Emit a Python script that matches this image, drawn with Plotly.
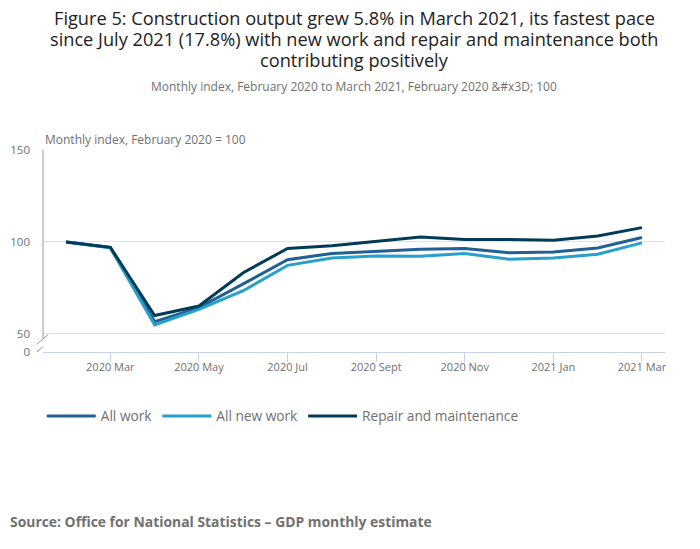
import plotly.graph_objects as go

months = ["2020 Feb", "2020 Mar", "2020 Apr", "2020 May", "2020 Jun", "2020 Jul", "2020 Aug",
          "2020 Sept", "2020 Oct", "2020 Nov", "2020 Dec", "2021 Jan", "2021 Feb", "2021 Mar"]
all_work = [100, 97.0, 56.7, 64.3, 77.2, 90.4, 93.8, 95.1, 96.0, 96.5, 94.2, 94.6, 96.7, 102.4]
all_new_work = [100, 96.8, 54.9, 63.4, 73.5, 87.3, 91.3, 92.4, 92.2, 93.8, 90.6, 91.3, 93.3, 99.5]
repair_maint = [100, 97.1, 60.0, 65.2, 83.3, 96.5, 98.0, 100.5, 102.7, 101.4, 101.4, 100.9, 103.3, 107.8]
tick_months = ["2020 Mar", "2020 May", "2020 Jul", "2020 Sept", "2020 Nov", "2021 Jan", "2021 Mar"]
title_lines = ["Figure 5: Construction output grew 5.8% in March 2021, its fastest pace",
               "since July 2021 (17.8%) with new work and repair and maintenance both",
               "contributing positively"]

FONT = "Open Sans"
GREY = "#707071"

fig = go.Figure()
for name, vals, col in [("All work", all_work, "#206095"),
                        ("All new work", all_new_work, "#27a0cc"),
                        ("Repair and maintenance", repair_maint, "#003c57")]:
    fig.add_trace(go.Scatter(x=months, y=vals, name=name, mode="lines",
                             line=dict(color=col, width=3)))

# broken y axis: line plus the two slashes
fig.add_shape(type="line", xref="paper", yref="y", x0=0, x1=0, y0=47.5, y1=150,
              line=dict(color="#9a9a9a", width=1))
fig.add_shape(type="line", xref="paper", yref="y", x0=-0.010, x1=0.0085, y0=44.4, y1=49.8,
              line=dict(color="#9a9a9a", width=1))
fig.add_shape(type="line", xref="paper", yref="y", x0=-0.010, x1=0.0005, y0=40.2, y1=43.2,
              line=dict(color="#9a9a9a", width=1))

fig.update_layout(
    width=700, height=549,
    paper_bgcolor="white", plot_bgcolor="white",
    font=dict(family=FONT, color=GREY, size=12),
    margin=dict(l=43, r=35, t=150, b=197),
    showlegend=True,
    legend=dict(orientation="h", x=-0.002, xanchor="left", y=-0.317, yanchor="middle",
                itemwidth=49, font=dict(size=13.7, color=GREY)),
    xaxis=dict(type="category", range=[-0.52, 13.52], tickvals=tick_months,
               ticks="outside", ticklen=9, tickcolor="#c6d3e6", ticklabelstandoff=-4,
               showline=True, linecolor="#c6d3e6", linewidth=1, automargin=False,
               showgrid=False, tickfont=dict(size=11, color=GREY)),
    yaxis=dict(range=[40.2, 150], tickvals=[40.2, 50, 100, 150],
               ticktext=["0", "50", "100", "150"], showgrid=True,
               gridcolor="#e2e2e3", zeroline=False, showline=False, automargin=False,
               ticklabelstandoff=12,
               tickfont=dict(size=11.5, color=GREY), ticks=""),
)

# title, one annotation per line to get the tighter line spacing
for i, line in enumerate(title_lines):
    fig.add_annotation(text=line, xref="paper", yref="paper", x=0.5, y=1,
                       xanchor="center", yanchor="middle", yshift=132 - 21 * i,
                       showarrow=False, font=dict(family=FONT, size=18.2, color="#222222"))
fig.add_annotation(text="Monthly index, February 2020 to March 2021, February 2020 &amp;#x3D; 100",
                   xref="paper", yref="paper", x=0.5, y=1.0, xanchor="center", yanchor="middle",
                   yshift=64, showarrow=False, font=dict(size=12, color=GREY))
fig.add_annotation(text="Monthly index, February 2020 = 100", xref="paper", yref="paper",
                   x=0, y=1, xanchor="left", yanchor="bottom", showarrow=False,
                   font=dict(size=12, color=GREY))
fig.add_annotation(text="<b>Source: Office for National Statistics – GDP monthly estimate</b>",
                   xref="paper", yref="paper", x=-0.056, y=-0.837, xanchor="left", yanchor="middle",
                   showarrow=False, font=dict(size=13.9, color=GREY))

# drop the default page margin so the figure sits at the window's top-left corner
fig.write_html("out.html", config={"displayModeBar": False},
               post_script="document.body.style.margin='0';")
